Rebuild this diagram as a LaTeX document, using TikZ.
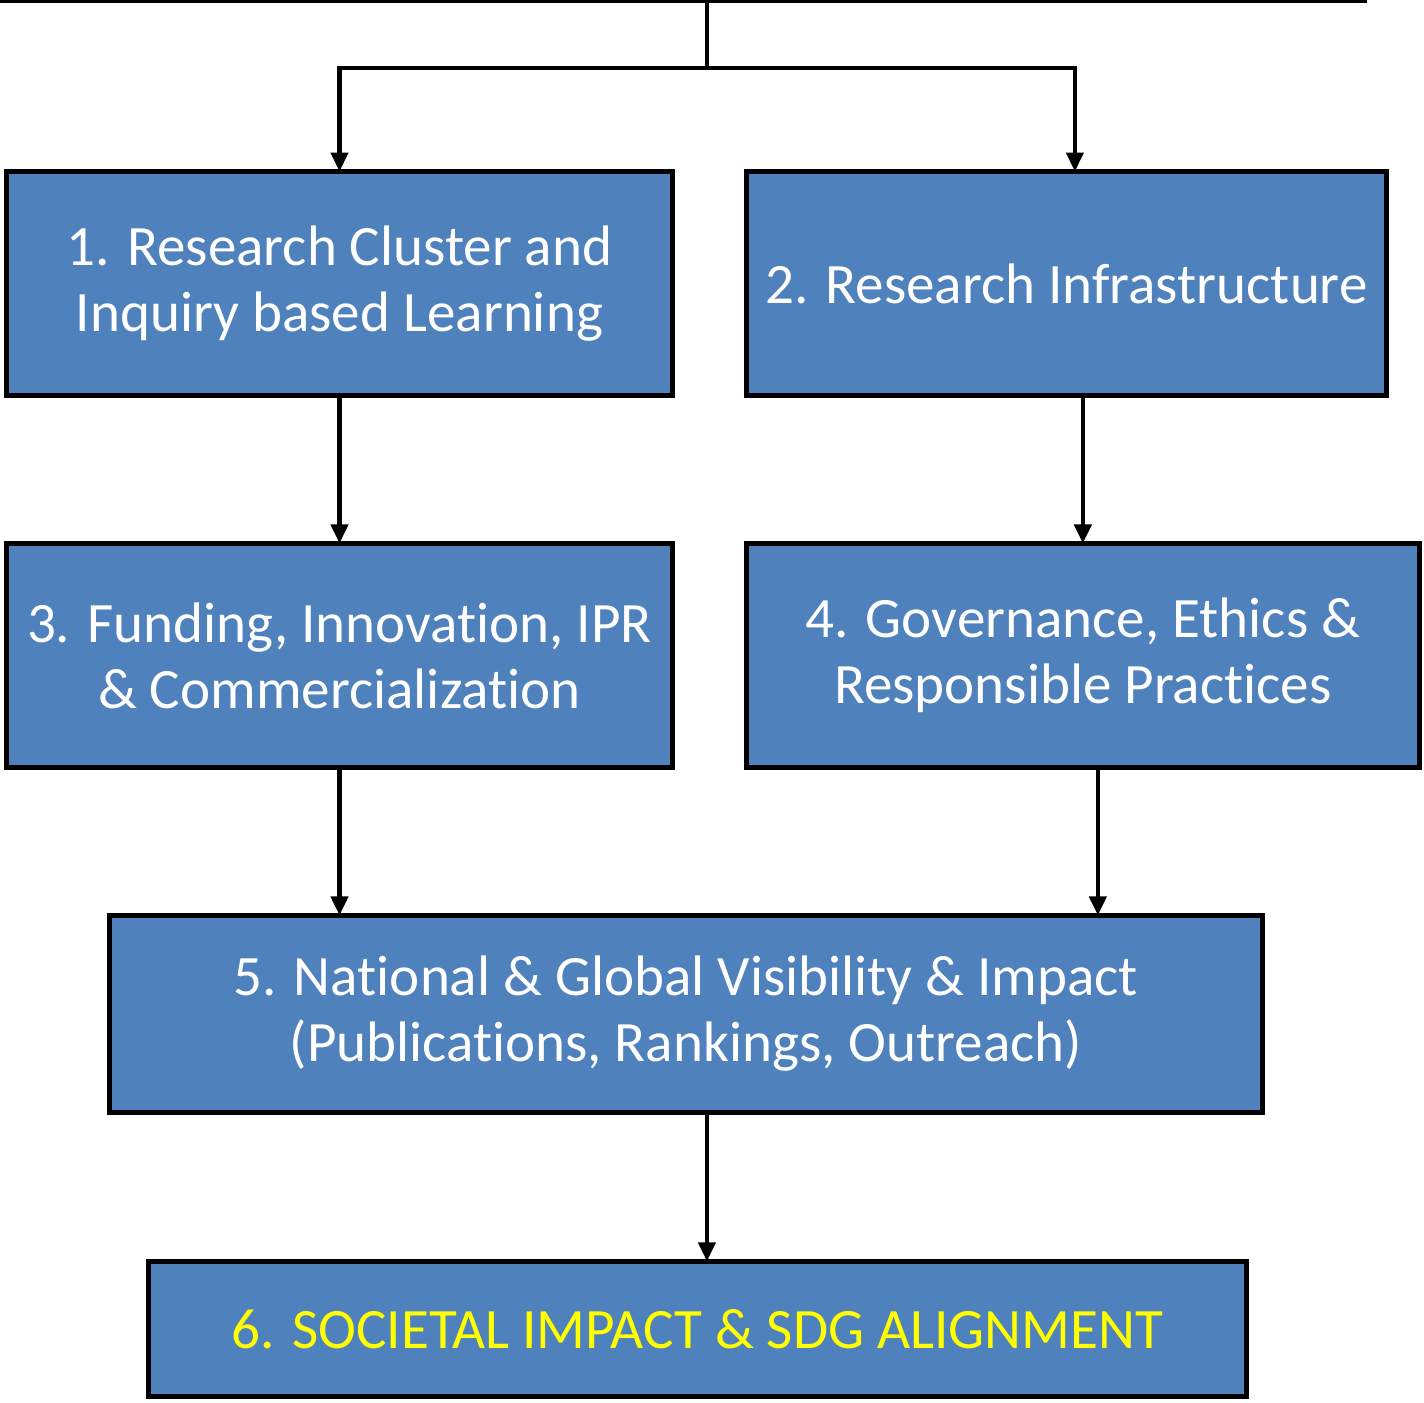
\documentclass[tikz,border=0pt]{standalone}
\usepackage{fontspec}
\setmainfont[Ligatures=NoCommon]{Carlito}
\usetikzlibrary{positioning}
\usetikzlibrary{arrows.meta}
\tikzset{>={Triangle[width=3.4mm,length=3.8mm]}}
\definecolor{boxblue}{HTML}{4F81BD}
\definecolor{sdgyellow}{HTML}{FFFF00}

\begin{document}
\begin{tikzpicture}[x=0.02cm, y=-0.02cm, box/.style={rectangle, draw=black, fill=boxblue, line width=2.8pt, text=white, align=center, outer sep=0pt, font=\fontsize{32.5}{37.6}\selectfont}, link/.style={->, line width=2.4pt}]
    \useasboundingbox (0,0) rectangle (1424,1403);
    
    %Nodes
    \node[box, minimum width=13.32cm, minimum height=4.48cm](cluster) at (339.5,283.5){1. Research Cluster and\\Inquiry based Learning};
    \node[box, minimum width=12.8cm, minimum height=4.48cm](infra)[right=1.48cm of cluster]{2. Research Infrastructure};
    \node[box, minimum width=13.32cm, minimum height=4.48cm](funding)[below=2.96cm of cluster]{3. Funding, Innovation, IPR\\\& Commercialization};
    \node[box, minimum width=13.46cm, minimum height=4.48cm](gov)[below=2.96cm of infra.south west, anchor=north west]{4. Governance, Ethics \&\\Responsible Practices};
    \node[box, minimum width=23.06cm, minimum height=3.94cm](impact)[below=2.96cm of funding, xshift=6.93cm]{5. National \& Global Visibility \& Impact\\(Publications, Rankings, Outreach)};
    \node[box, minimum width=21.96cm, minimum height=2.7cm, text=sdgyellow](sdg)[below=2.98cm of impact, xshift=0.23cm]{6. SOCIETAL IMPACT \& SDG ALIGNMENT};
    
    %Top feed
    \coordinate (topleft) at (0,1);
    \coordinate (topright) at (1367,1);
    \coordinate (feed) at (707,1);
    \coordinate (split) at (707,68);
    
    %Lines
    \draw[line width=2.4pt] (topleft) -- (topright);
    \draw[line width=2.4pt] (feed) -- (split);
    \draw[link] (split) -| (cluster.north);
    \draw[link] (split) -| ([xshift=0.17cm]infra.north);
    \draw[link] (cluster.south) -- (funding.north);
    \draw[link] (infra.south -| gov.north) -- (gov.north);
    \draw[link] (funding.south) -- (funding.south |- impact.north);
    \draw[link] ([xshift=0.3cm]gov.south) -- ([xshift=0.3cm]gov.south |- impact.north);
    \draw[link] ([xshift=0.19cm]sdg.north |- impact.south) -- ([xshift=0.19cm]sdg.north);
    
\end{tikzpicture}
\end{document}
